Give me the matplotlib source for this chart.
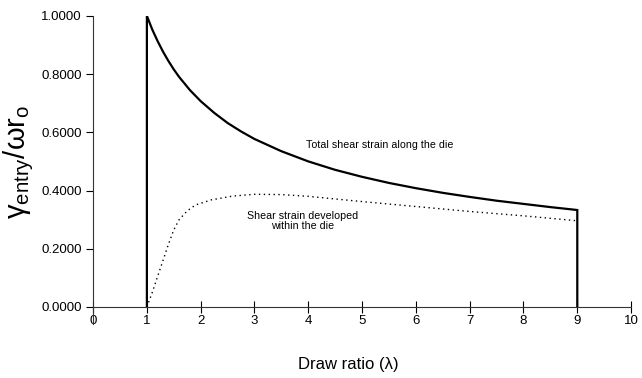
import matplotlib
matplotlib.use("Agg")
from matplotlib import pyplot as plt
from matplotlib.ticker import FormatStrFormatter

plt.rcParams['font.family'] = ['Liberation Sans', 'DejaVu Sans']
plt.rcParams['mathtext.fontset'] = 'custom'
plt.rcParams['mathtext.rm'] = 'Liberation Sans'
plt.rcParams['mathtext.it'] = 'Liberation Sans:italic'

# total shear strain along the die
total_ratio = [1.0, 1.1, 1.2, 1.3, 1.4, 1.5, 1.6, 1.8, 2.0, 2.25, 2.5, 2.75, 3.0,
               3.5, 4.0, 4.5, 5.0, 5.5, 6.0, 6.5, 7.0, 7.5, 8.0, 8.5, 9.0]
total_strain = [1.0, 0.953, 0.913, 0.877, 0.845, 0.816, 0.790, 0.745, 0.707,
                0.667, 0.632, 0.603, 0.577, 0.535, 0.500, 0.471, 0.447, 0.426,
                0.408, 0.392, 0.378, 0.365, 0.354, 0.343, 0.333]

# shear strain developed within the die
within_ratio = [1.0, 1.1, 1.2, 1.3, 1.4, 1.5, 1.6, 1.75, 1.9, 2.2, 2.6, 3.0,
                3.5, 4.0, 5.0, 6.0, 7.0, 8.0, 9.0]
within_strain = [0.0, 0.05, 0.105, 0.16, 0.215, 0.265, 0.30, 0.33, 0.35, 0.368,
                 0.381, 0.387, 0.386, 0.38, 0.362, 0.345, 0.328, 0.313, 0.296]

x_ticks = list(range(0, 11))
y_ticks = [0.0, 0.2, 0.4, 0.6, 0.8, 1.0]

fig = plt.figure(figsize=(6.42, 3.78), dpi=100)
ax = fig.add_axes([0.145, 0.188, 0.838, 0.770])

# closed outline: up at entry, curve, down at exit
xs = [total_ratio[0]] + total_ratio + [total_ratio[-1]]
ys = [0.0] + total_strain + [0.0]
ax.plot(xs, ys, color='black', lw=1.6, solid_joinstyle='miter')
ax.plot(within_ratio, within_strain, color='black', lw=1.0, linestyle=(0, (1, 2.5)))

ax.text(5.33, 0.557, 'Total shear strain along the die', fontsize=7.7,
        ha='center', va='center')
ax.text(3.9, 0.295, 'Shear strain developed\nwithin the die', fontsize=7.7,
        ha='center', va='center', linespacing=1.1)

ax.set_xlim(0, 10)
ax.set_ylim(0, 1.0)
ax.set_xticks(x_ticks)
ax.set_yticks(y_ticks)
ax.yaxis.set_major_formatter(FormatStrFormatter('%.4f'))
ax.tick_params(axis='x', direction='inout', length=8, width=0.8, labelsize=9.5, pad=2)
ax.tick_params(axis='y', direction='out', length=5, width=0.8, labelsize=9.5, pad=3)

for side in ['top', 'right']:
    ax.spines[side].set_visible(False)
for side in ['left', 'bottom']:
    ax.spines[side].set_color('#333333')
    ax.spines[side].set_linewidth(0.8)
ax.spines['left'].set_bounds(-0.06, 1.0)

fig.text(348 / 642, 1 - 364 / 378, 'Draw ratio (λ)', fontsize=12, ha='center', va='center')
ax.set_ylabel(r'$\mathrm{\gamma}_{\mathrm{entry}}/\mathrm{\omega r}_{\mathrm{o}}$',
              fontsize=21, labelpad=4)

fig.savefig('out.png', dpi=100)
